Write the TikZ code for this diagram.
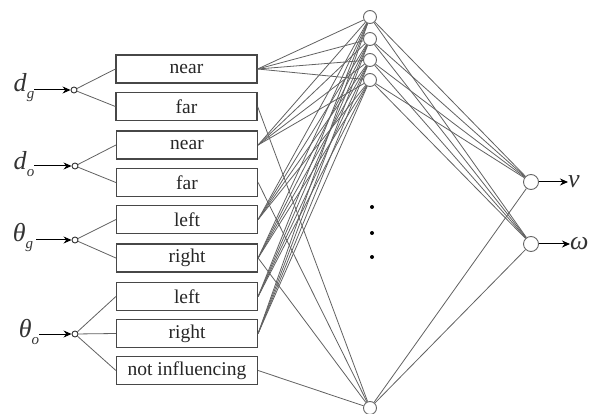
\documentclass[tikz,border=0pt]{standalone}
\usepackage{fontspec}
\setmainfont{Liberation Serif}
\usetikzlibrary{arrows.meta}
\newcommand{\varsub}[2]{\textit{#1}\raisebox{-7pt}{\fontsize{15}{15}\selectfont\textit{#2}}}
\begin{document}
\begin{tikzpicture}[x=1pt,y=-1pt,
 fuzzybox/.style={draw=black!72, line width=1.2pt, minimum width=141pt, minimum height=28pt, inner sep=0pt, font=\fontsize{19.5}{22}\selectfont, text=black!85},
 inpt/.style={circle, draw=black!80, line width=0.9pt, minimum size=6pt, inner sep=0pt},
 neuron/.style={circle, draw=black!60, line width=0.9pt, minimum size=13pt, inner sep=0pt},
 outn/.style={circle, draw=black!60, line width=0.9pt, minimum size=15pt, inner sep=0pt},
 wire/.style={draw=black!62, line width=0.8pt},
 inarrow/.style={draw=black, line width=1pt, -{Stealth[length=8pt,width=7pt]}},
 varlbl/.style={inner sep=0pt, font=\fontsize{26}{28}\selectfont, text=black!80},
 dotm/.style={circle, fill=black, minimum size=4pt, inner sep=0pt}
]
\useasboundingbox (0,0) rectangle (589,414);
% input variable labels
\node[varlbl] (ldg) at (24,88) {\varsub{d}{g}};
\node[varlbl] (ldo) at (24,164) {\varsub{d}{o}};
\node[varlbl] (ltg) at (23,238) {\varsub{θ}{g}};
\node[varlbl] (lto) at (29,332) {\varsub{θ}{o}};
% input points
\node[inpt] (cdg) at (74,90) {};
\node[inpt] (cdo) at (75,166) {};
\node[inpt] (ctg) at (75,240) {};
\node[inpt] (cto) at (75,334) {};
\draw[inarrow] (ldg.east |- cdg) -- (cdg.west);
\draw[inarrow] (ldo.east |- cdo) -- (cdo.west);
\draw[inarrow] ([xshift=3pt]ltg.east |- ctg) -- (ctg.west);
\draw[inarrow] (lto.east |- cto) -- (cto.west);
% fuzzy set boxes
\node[fuzzybox] (b1) at (186.5,69) {near};
\node[fuzzybox] (b2) at (186.5,106.5) {far};
\node[fuzzybox] (b3) at (187,145) {near};
\node[fuzzybox] (b4) at (187,182.5) {far};
\node[fuzzybox] (b5) at (187,219.5) {left};
\node[fuzzybox] (b6) at (187,258) {right};
\node[fuzzybox] (b7) at (187,296.5) {left};
\node[fuzzybox] (b8) at (187,333.5) {right};
\node[fuzzybox] (b9) at (187,370.5) {not influencing};
% input to boxes
\draw[wire] (cdg) -- (b1.west);
\draw[wire] (cdg) -- (b2.west);
\draw[wire] (cdo) -- (b3.west);
\draw[wire] (cdo) -- (b4.west);
\draw[wire] (ctg) -- (b5.west);
\draw[wire] (ctg) -- (b6.west);
\draw[wire] (cto) -- (b7.west);
\draw[wire] (cto) -- (b8.west);
\draw[wire] (cto) -- (b9.west);
% hidden neurons
\node[neuron] (h1) at (370,17) {};
\node[neuron] (h2) at (370,39) {};
\node[neuron] (h3) at (370,60) {};
\node[neuron] (h4) at (370,80) {};
\node[neuron] (h5) at (370,408) {};
\node[dotm] (d1) at (372,207) {};
\node[dotm] (d2) at (372,233) {};
\node[dotm] (d3) at (372,257) {};
% output neurons
\node[outn] (ov) at (531,182) {};
\node[outn] (ow) at (531,244) {};
\node[varlbl, anchor=west] (lv) at (568,182) {\textit{v}};
\node[varlbl, anchor=west] (lw) at (570,244) {\textit{ω}};
\draw[inarrow] (ov.east) -- (lv.west);
\draw[inarrow] (ow.east) -- (lw.west);
% box to hidden
\foreach \b in {b1,b3,b5,b6,b7,b8}
  \foreach \h in {h1,h2,h3,h4}
    \draw[wire] (\b.east) -- (\h);
\foreach \b in {b2,b4,b6,b9}
  \draw[wire] (\b.east) -- (h5);
% hidden to output
\foreach \h in {h1,h2,h3,h4,h5} {
  \draw[wire] (\h) -- (ov);
  \draw[wire] (\h) -- (ow);
}
\end{tikzpicture}
\end{document}
